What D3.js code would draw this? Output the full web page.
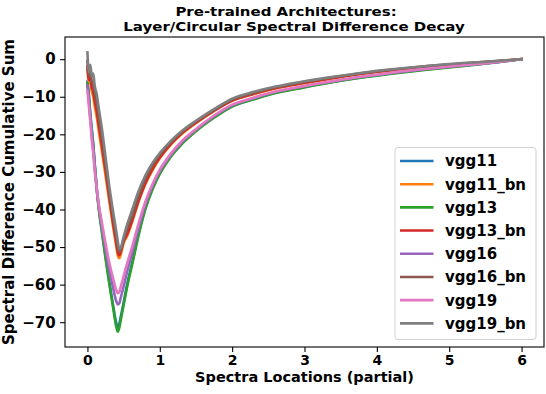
<!DOCTYPE html>
<html><head><meta charset="utf-8">
<script src="https://cdn.jsdelivr.net/npm/d3@7"></script>
<style>
body{margin:0;background:#fff;}
svg{display:block;font-family:"DejaVu Sans",sans-serif;font-weight:bold;}
</style></head>
<body><svg id="chart" width="546" height="394"></svg>
<script>
const xs = [0,0.02,0.04,0.06,0.08,0.10,0.13,0.16,0.20,0.25,0.30,0.35,0.40,0.42,0.44,0.46,0.50,0.55,0.62,0.70,0.80,0.90,1.00,1.15,1.30,1.50,1.75,2.00,2.30,2.60,3.00,3.40,3.80,4.20,4.60,5.00,5.40,5.80,6.00];

const seriesNames = ["vgg11","vgg11_bn","vgg13","vgg13_bn","vgg16","vgg16_bn","vgg19","vgg19_bn"];
const seriesColors = ["#1f77b4","#ff7f0e","#2ca02c","#d62728","#9467bd","#8c564b","#e377c2","#7f7f7f"];

const vgg11 = [-6.0,-9.5,-14.5,-18.5,-22.5,-27.5,-34.5,-40,-45.5,-52.5,-59,-65,-70.3,-71.3,-70.5,-68.6,-64.8,
  -59.8,-54,-47,-39.6,-34.3,-30.2,-25.8,-22.5,-19.0,-15.4,-12.5,-10.6,-8.9,-7.4,-6.0,-4.8,-3.8,-2.9,-2.1,-1.35,-0.5,0];
const vgg11_bn = [-3,-6,-6.5,-8.5,-10,-12.5,-15.5,-19.5,-24.5,-31,-37.5,-44,-50,-52.3,-53,-52,-49,
  -47,-43.2,-38.3,-33.3,-29.5,-26.4,-22.8,-20.0,-17.0,-13.8,-11.1,-9.3,-7.8,-6.4,-5.1,-3.9,-3.0,-2.2,-1.6,-1.0,-0.35,0];
const vgg13 = [-6.5,-10,-15,-19,-23,-28,-35,-40.5,-46,-53,-59.5,-65.5,-71.3,-72.5,-71.5,-69.5,-65.5,
  -60.5,-54.5,-47.5,-40,-34.6,-30.5,-26.0,-22.7,-19.2,-15.6,-12.6,-10.7,-9.0,-7.5,-6.1,-4.9,-3.9,-3.0,-2.2,-1.4,-0.5,0];
const vgg13_bn = [-2,-5.5,-5,-7.5,-8.5,-11,-14,-18,-23,-29.5,-36.5,-43,-49,-51.3,-52.2,-51.3,-48.5,
  -46.5,-42.8,-38,-33,-29.2,-26.2,-22.6,-19.8,-16.9,-13.7,-11.0,-9.2,-7.7,-6.3,-5.0,-3.8,-2.9,-2.1,-1.5,-0.95,-0.3,0];
const vgg16 = [-7,-11,-16,-20,-24,-28.5,-35,-39.5,-44.5,-50.5,-56,-60.5,-64.5,-65.3,-65,-63.5,-60.5,
  -56.5,-51.5,-45.5,-38.7,-33.7,-29.8,-25.5,-22.2,-18.8,-15.2,-12.3,-10.4,-8.7,-7.2,-5.9,-4.7,-3.7,-2.8,-2.0,-1.3,-0.45,0];
const vgg16_bn = [-0.5,-4.5,-3,-6,-6.5,-9,-12,-16,-21,-28,-35,-41.5,-47.5,-50,-51.4,-50.8,-48,
  -45.2,-41.8,-37,-32,-28.3,-25.5,-22.2,-19.5,-16.6,-13.5,-10.8,-9.0,-7.5,-6.1,-4.8,-3.7,-2.8,-2.0,-1.4,-0.85,-0.3,0];
const vgg19 = [-8.5,-12.5,-16.5,-21.5,-25,-29.5,-34.5,-39,-43.5,-49,-54,-58,-61.5,-62.3,-62,-60.6,-57.8,
  -54.3,-49.8,-44.2,-38,-33.2,-29.4,-25.2,-21.9,-18.6,-15.0,-12.1,-10.2,-8.6,-7.1,-5.8,-4.6,-3.6,-2.7,-1.95,-1.25,-0.45,0];
const vgg19_bn = [1.8,-3.5,-1.5,-4.5,-3.8,-7.0,-9.5,-13.5,-18.5,-26,-33.5,-40,-46,-48.5,-50.6,-50.2,-47.3,
  -44,-40,-35.5,-31,-27.6,-25,-21.8,-19.2,-16.4,-13.3,-10.5,-8.7,-7.3,-5.9,-4.7,-3.6,-2.7,-2.0,-1.3,-0.8,-0.3,0];

const seriesValues = [vgg11,vgg11_bn,vgg13,vgg13_bn,vgg16,vgg16_bn,vgg19,vgg19_bn];

const xTicks = [0,1,2,3,4,5,6];
const yTicks = [0,-10,-20,-30,-40,-50,-60,-70];

const titleLines = ["Pre-trained Architectures:","Layer/Circular Spectral Difference Decay"];
const xLabel = "Spectra Locations (partial)";
const yLabel = "Spectral Difference Cumulative Sum";

const svg = d3.select("#chart");
const L = 65, R = 544, T = 37, B = 347;
const FS = 15;

const x = d3.scaleLinear().domain([-0.31, 6.31]).range([L, R]);
const y = d3.scaleLinear().domain([-76.6, 5.9]).range([B, T]);

// lines
svg.append("clipPath").attr("id","clip").append("rect")
  .attr("x",L).attr("y",T).attr("width",R-L).attr("height",B-T);
const line = d3.line().x((d,i)=>x(xs[i])).y(d=>y(d)).curve(d3.curveMonotoneX);
const g = svg.append("g").attr("clip-path","url(#clip)");
seriesValues.forEach((vals,k)=>{
  g.append("path").attr("d",line(vals)).attr("fill","none")
    .attr("stroke",seriesColors[k]).attr("stroke-width",2.6)
    .attr("stroke-linejoin","round").attr("stroke-linecap","square");
});

// axes
const fmt = d => d3.format("d")(d).replace("-","\u2212");
const xAxis = d3.axisBottom(x).tickValues(xTicks).tickFormat(fmt).tickSize(4.9).tickPadding(3.5);
const yAxis = d3.axisLeft(y).tickValues(yTicks).tickFormat(fmt).tickSize(4.9).tickPadding(4.5);
const gx = svg.append("g").attr("transform",`translate(0,${B})`).call(xAxis);
const gy = svg.append("g").attr("transform",`translate(${L},0)`).call(yAxis);
[gx,gy].forEach(a=>{
  a.select(".domain").remove();
  a.selectAll(".tick line").attr("stroke","#000").attr("stroke-width",1.1);
  a.selectAll(".tick text").attr("font-family","DejaVu Sans").attr("font-weight","bold").attr("fill","#000");
});
gx.selectAll(".tick text").attr("font-size",14);
gy.selectAll(".tick text").attr("font-size",FS);

// frame
svg.append("rect").attr("x",L).attr("y",T).attr("width",R-L).attr("height",B-T)
  .attr("fill","none").attr("stroke","#000").attr("stroke-width",1.1);

// title (slightly condensed vertically, as in the reference)
svg.append("text").attr("transform","translate(286,16) scale(1.17,1)")
  .attr("text-anchor","middle").attr("font-size",12.8).text(titleLines[0]);
svg.append("text").attr("transform","translate(294,31) scale(1.17,1)")
  .attr("text-anchor","middle").attr("font-size",12.8).text(titleLines[1]);

// axis labels
svg.append("text").attr("x",(L+R)/2).attr("y",382).attr("text-anchor","middle").attr("font-size",14.5).text(xLabel);
svg.append("text").attr("transform",`translate(13.5,${(T+B)/2}) rotate(-90)`).attr("text-anchor","middle").attr("font-size",FS).text(yLabel);

// legend
const lg = svg.append("g");
lg.append("rect").attr("x",395).attr("y",147.5).attr("width",141).attr("height",192)
  .attr("rx",3).attr("fill","#fff").attr("fill-opacity",0.8).attr("stroke","#d0d0d0").attr("stroke-width",1);
seriesNames.forEach((n,k)=>{
  const cy = 161 + k*23.19;
  lg.append("line").attr("x1",400).attr("x2",433.5).attr("y1",cy).attr("y2",cy)
    .attr("stroke",seriesColors[k]).attr("stroke-width",2.6);
  lg.append("text").attr("x",445).attr("y",cy).attr("dy","0.36em").attr("font-size",FS).text(n);
});
</script></body></html>
